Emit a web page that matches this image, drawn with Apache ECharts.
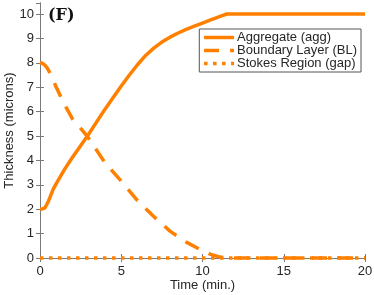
<!DOCTYPE html>
<html><head><meta charset="utf-8">
<script src="https://cdn.jsdelivr.net/npm/echarts@6/dist/echarts.min.js"></script>
<style>html,body{margin:0;padding:0;background:#fff}#c{width:374px;height:295px}</style>
</head><body><div id="c"></div>
<script>
var seriesNames = ['Aggregate (agg)', 'Boundary Layer (BL)', 'Stokes Region (gap)'];
var aggTime = [0, 0.15, 0.3, 0.4, 0.5, 0.65, 0.8, 1, 1.5, 2, 2.5, 3, 4, 5, 5.5, 6, 6.5, 7, 7.5, 8, 8.5, 9, 9.5, 10, 10.5, 11, 11.5, 20];
var aggVal  = [2, 2.01, 2.05, 2.13, 2.3, 2.55, 2.8, 3.05, 3.62, 4.13, 4.6, 5.08, 6.1, 7.05, 7.5, 7.92, 8.3, 8.6, 8.85, 9.05, 9.22, 9.37, 9.5, 9.63, 9.76, 9.88, 10, 10];
var blTime = [0, 0.15, 0.3, 0.45, 0.6, 1, 1.5, 2, 2.9, 4, 5, 6, 7, 8, 9, 10, 10.5, 11, 11.5, 20];
var blVal  = [8, 7.98, 7.9, 7.78, 7.6, 7.0, 6.3, 5.7, 5.0, 3.9, 3.15, 2.35, 1.7, 1.1, 0.65, 0.3, 0.15, 0.05, 0, 0];
var gapTime = [0, 20];
var gapVal  = [0, 0];
var xTicks = [0, 5, 10, 15, 20];
var yTicks = [0, 1, 2, 3, 4, 5, 6, 7, 8, 9, 10];

function pairs(t, v) { return t.map(function (x, i) { return [x, v[i]]; }); }
var orange = '#ff8000';
var axisCol = '#7a7a7a';
var labCol = '#262626';
var font = 'Liberation Sans';
var chart = echarts.init(document.getElementById('c'), null, {renderer: 'canvas'});
chart.setOption({
  animation: false,
  grid: {left: 40, right: 9, top: 3, bottom: 37, containLabel: false, outerBoundsMode: 'none'},
  title: {text: '(F)', left: 48, top: 8, padding: 0, textStyle: {fontFamily: 'DejaVu Serif', fontWeight: 'bold', fontSize: 16, color: '#111'}},
  legend: {
    data: seriesNames, orient: 'vertical', right: 13, top: 29,
    itemWidth: 30, itemHeight: 8, itemGap: 0,
    padding: [2, 4, 2, 3], borderColor: '#555', borderWidth: 1, backgroundColor: '#fff', borderRadius: 0,
    itemStyle: {opacity: 0},
    lineStyle: {width: 3.5},
    textStyle: {fontFamily: font, fontSize: 13, color: labCol, padding: [0, 0, 0, -2], lineHeight: 13}
  },
  xAxis: [{
    type: 'value', min: xTicks[0], max: xTicks[xTicks.length - 1], interval: 5,
    name: 'Time (min.)', nameLocation: 'middle', nameGap: 21, nameMoveOverlap: false,
    nameTextStyle: {fontFamily: font, fontSize: 13, color: labCol},
    axisLine: {lineStyle: {color: axisCol, width: 1}},
    axisTick: {inside: true, length: 4, lineStyle: {color: axisCol}},
    axisLabel: {fontFamily: font, fontSize: 13, color: labCol, margin: 7},
    splitLine: {show: false}
  }, {
    type: 'value', position: 'top', min: 0, max: 20, interval: 5,
    axisLine: {lineStyle: {color: axisCol, width: 1}},
    axisTick: {inside: true, length: 4, lineStyle: {color: axisCol}},
    axisLabel: {show: false}, splitLine: {show: false}
  }],
  yAxis: [{
    type: 'value', min: 0, max: 10.45, interval: 1,
    name: 'Thickness (microns)', nameLocation: 'middle', nameGap: 24, nameMoveOverlap: false,
    nameTextStyle: {fontFamily: font, fontSize: 13, color: labCol},
    axisLine: {show: true, lineStyle: {color: axisCol, width: 1}},
    axisTick: {show: true, inside: true, length: 4, lineStyle: {color: axisCol}},
    axisLabel: {fontFamily: font, fontSize: 13, color: labCol, margin: 6, showMaxLabel: false,
      formatter: function (v) { return yTicks.indexOf(v) >= 0 ? String(v) : ''; }},
    splitLine: {show: false}
  }, {
    type: 'value', position: 'right', min: 0, max: 10.45, interval: 1,
    axisLine: {show: true, lineStyle: {color: axisCol, width: 1}},
    axisTick: {show: true, inside: true, length: 4, lineStyle: {color: axisCol}},
    axisLabel: {show: false}, splitLine: {show: false}
  }],
  series: [{
    name: seriesNames[0], type: 'line', data: pairs(aggTime, aggVal), showSymbol: false, symbol: 'none',
    clip: false,
    lineStyle: {color: orange, width: 3.5, join: 'round'}, itemStyle: {color: orange}
  }, {
    name: seriesNames[1], type: 'line', data: pairs(blTime, blVal), showSymbol: false, symbol: 'none',
    clip: false,
    lineStyle: {color: orange, width: 3.5, type: [15, 11], cap: 'butt', join: 'round'}, itemStyle: {color: orange}
  }, {
    name: seriesNames[2], type: 'line', data: pairs(gapTime, gapVal), showSymbol: false, symbol: 'none', clip: false,
    lineStyle: {color: orange, width: 3.5, type: [3.5, 5.5], cap: 'butt'}, itemStyle: {color: orange}
  }]
});
</script></body></html>
